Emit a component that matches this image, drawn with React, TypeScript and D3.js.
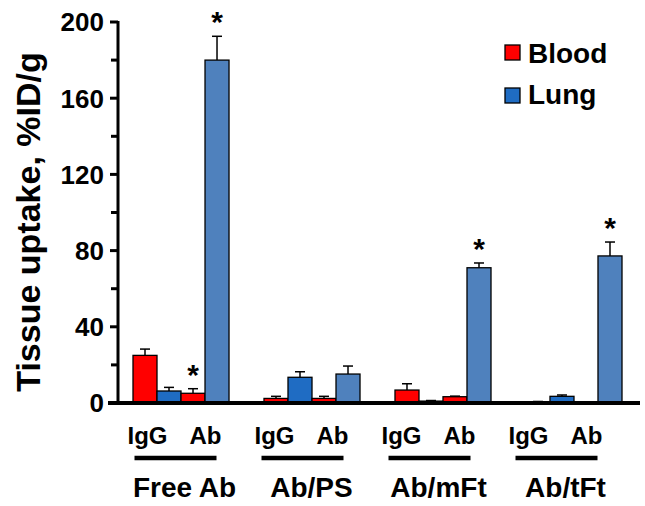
import React from "react";
import * as d3 from "d3";

const groups = ["Free Ab", "Ab/PS", "Ab/mFt", "Ab/tFt"];
const subLabels = ["IgG", "Ab"];
const series = ["Blood", "Lung"];
// values per group: [IgG-Blood, IgG-Lung, Ab-Blood, Ab-Lung]
const bloodIgG = [25, 2.4, 6.8, 0.5];
const lungIgG = [6.3, 13.5, 1.0, 3.5];
const bloodAb = [5.1, 2.4, 3.3, 0.3];
const lungAb = [180, 15.2, 71, 77.2];
const bloodIgGErr = [3.3, 1.1, 3.3, 0.3];
const lungIgGErr = [1.9, 2.9, 0.3, 0.7];
const bloodAbErr = [2.4, 1.1, 0.3, 0.1];
const lungAbErr = [12.5, 4.2, 2.5, 7.3];
const significant = [
  [false, false, true, true],
  [false, false, false, false],
  [false, false, false, true],
  [false, false, false, true],
];
const yTicks = [0, 40, 80, 120, 160, 200];
const yMinorTicks = [20, 60, 100, 140, 180];

const RED = "#ff0000";
const BLUE_DARK = "#1f6cc3";
const BLUE_LIGHT = "#4f81bd";
const FONT = "'Liberation Sans', Arial, sans-serif";

export default function App() {
  const W = 645, H = 506;
  const axisX = 118;
  const y = d3.scaleLinear().domain([0, 200]).range([403, 22]);
  const gx = d3.scaleBand<string>().domain(groups).range([133, 622]).paddingInner(0.267).paddingOuter(0);
  const bx = d3.scaleBand<number>().domain([0, 1, 2, 3]).range([0, gx.bandwidth()]);
  const lx = d3.scaleBand<string>().domain(groups).range([112, 620]);

  const bars = groups.flatMap((g, i) => {
    const vals = [bloodIgG[i], lungIgG[i], bloodAb[i], lungAb[i]];
    const errs = [bloodIgGErr[i], lungIgGErr[i], bloodAbErr[i], lungAbErr[i]];
    const cols = [RED, BLUE_DARK, RED, BLUE_LIGHT];
    return vals.map((v, j) => ({ g, i, j, v, e: errs[j], c: cols[j], sig: significant[i][j] }));
  });

  return (
    <svg width={W} height={H} style={{ position: "absolute", left: 0, top: 0, background: "#fff" }} fontFamily={FONT}>
      {/* y axis label */}
      <text transform={`translate(40,${222}) rotate(-90)`} textAnchor="middle" fontSize={34} fontWeight="bold">
        Tissue uptake, %ID/g
      </text>
      {/* bars */}
      {bars.map((b, k) => {
        const x0 = (gx(b.g) as number) + (bx(b.j) as number);
        const w = bx.bandwidth();
        const yt = y(b.v);
        const ye = y(b.v + b.e);
        const cx = x0 + w / 2;
        return (
          <g key={k}>
            <line x1={cx} x2={cx} y1={yt} y2={ye} stroke="#000" strokeWidth={1.5} />
            <line x1={cx - 5} x2={cx + 5} y1={ye} y2={ye} stroke="#000" strokeWidth={1.5} />
            <rect x={x0} y={yt} width={w} height={y(0) - yt} fill={b.c} stroke="#000" strokeWidth={1.3} />
            {b.sig && (
              <text x={cx} y={ye - 4} textAnchor="middle" fontSize={30} fontWeight="bold">*</text>
            )}
          </g>
        );
      })}
      {/* y axis */}
      <line x1={axisX} x2={axisX} y1={y(200) - 1} y2={y(0)} stroke="#000" strokeWidth={3} />
      {yTicks.map((t) => (
        <g key={t}>
          <line x1={axisX - 8} x2={axisX} y1={y(t)} y2={y(t)} stroke="#000" strokeWidth={3} />
          <text x={axisX - 14} y={y(t)} dy="0.36em" textAnchor="end" fontSize={26} fontWeight="bold">{t}</text>
        </g>
      ))}
      {yMinorTicks.map((t) => (
        <line key={t} x1={axisX - 7} x2={axisX} y1={y(t)} y2={y(t)} stroke="#000" strokeWidth={3} />
      ))}
      {/* x axis */}
      <line x1={108} x2={640} y1={y(0)} y2={y(0)} stroke="#000" strokeWidth={4} />
      {/* category labels */}
      {groups.map((g) => {
        const c = (lx(g) as number) + lx.bandwidth() / 2;
        return (
          <g key={g}>
            <text x={c - 28} y={444} textAnchor="middle" fontSize={24} fontWeight="bold">{subLabels[0]}</text>
            <text x={c + 30} y={444} textAnchor="middle" fontSize={24} fontWeight="bold">{subLabels[1]}</text>
            <line x1={c - 41} x2={c + 41} y1={458} y2={458} stroke="#000" strokeWidth={4.5} />
            <text x={c + 9} y={497} textAnchor="middle" fontSize={28} fontWeight="bold">{g}</text>
          </g>
        );
      })}
      {/* legend */}
      {series.map((s, i) => (
        <g key={s}>
          <rect x={505} y={45 + i * 43} width={15} height={15} fill={i === 0 ? RED : BLUE_DARK} stroke="#000" strokeWidth={1.3} />
          <text x={528} y={63 + i * 41} fontSize={28} fontWeight="bold">{s}</text>
        </g>
      ))}
    </svg>
  );
}
